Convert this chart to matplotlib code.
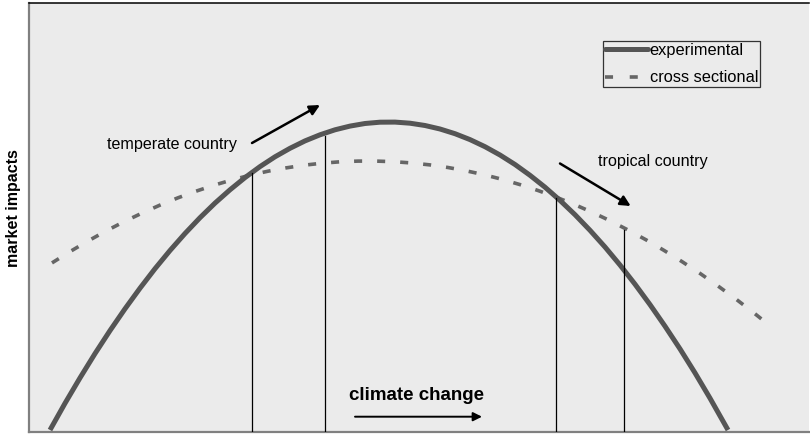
import matplotlib
matplotlib.use("Agg")
import matplotlib.pyplot as plt
from matplotlib.lines import Line2D

plt.rcParams['font.family'] = ['Liberation Sans', 'DejaVu Sans']
plt.rcParams['lines.scale_dashes'] = False

# Data (arbitrary units: climate change index vs market impact)
exp_x = [21, 36, 51, 66, 81, 96, 111, 126, 141, 156, 171, 186, 201, 216, 231,
         246, 261, 276, 291, 306, 321, 336, 351, 366, 381, 396, 411, 426, 441,
         456, 471, 486, 501, 516, 531, 546, 561, 576, 591, 606, 621, 636, 651,
         666, 681, 699]
exp_y = [1.5, 28.2, 53.6, 77.9, 100.9, 122.7, 143.3, 162.8, 181.0, 198.0,
         213.8, 228.4, 241.7, 253.9, 264.9, 274.7, 283.2, 290.6, 296.7, 301.7,
         305.4, 308.0, 309.3, 309.4, 308.3, 306.0, 302.5, 297.8, 291.9, 284.8,
         276.5, 267.0, 256.2, 244.3, 231.1, 216.8, 201.2, 184.5, 166.5, 147.3,
         126.9, 105.3, 82.6, 58.6, 33.3, 1.5]

cs_x = [23, 41, 59, 77, 95, 113, 131, 149, 167, 185, 203, 221, 239, 257, 275,
        293, 311, 329, 347, 365, 383, 401, 419, 437, 455, 473, 491, 509, 527,
        545, 563, 581, 599, 617, 635, 653, 671, 689, 707, 725, 742]
cs_y = [168.6, 179.9, 190.5, 200.5, 209.8, 218.4, 226.4, 233.7, 240.3, 246.3,
        251.6, 256.3, 260.3, 263.6, 266.3, 268.3, 269.7, 270.4, 270.4, 269.8,
        268.5, 266.6, 264.0, 260.7, 256.8, 252.2, 246.9, 241.0, 234.4, 227.2,
        219.3, 210.8, 201.5, 191.7, 181.1, 169.9, 158.1, 145.5, 132.4, 118.5,
        104.9]

vline_x = [223, 296, 527.5, 595]
vline_top = [258.5, 296, 233.5, 201.5]

series_labels = ["experimental", "cross sectional"]
ylabel = "market impacts"
xlabel_text = "climate change"
temperate_label = "temperate country"
tropical_label = "tropical country"

fig = plt.figure(figsize=(8.1, 4.34), dpi=100)
fig.patch.set_facecolor('white')
ax = fig.add_axes([29/810, 2.5/434, 780/810, 428.5/434])
ax.set_facecolor('#ebebeb')
ax.set_xlim(0, 780)
ax.set_ylim(0, 428.5)
ax.set_xticks([])
ax.set_yticks([])

ax.spines['top'].set_color('black')
ax.spines['top'].set_linewidth(1.1)
ax.spines['right'].set_visible(False)
ax.spines['left'].set_color('#808080')
ax.spines['left'].set_linewidth(1.6)
ax.spines['bottom'].set_color('#808080')
ax.spines['bottom'].set_linewidth(1.6)

solid_color = '#555555'
dash_color = '#666666'

ax.plot(exp_x, exp_y, color=solid_color, lw=3.6, solid_capstyle='butt',
        solid_joinstyle='round', zorder=3)
ax.plot(cs_x, cs_y, color=dash_color, lw=2.6, dashes=(5.8, 10.8),
        dash_capstyle='butt', zorder=2)

for x, top in zip(vline_x, vline_top):
    ax.plot([x, x], [0, top], color='black', lw=0.9, zorder=4)

arrow_kw = dict(arrowstyle='-|>', lw=1.8, color='black', mutation_scale=15,
                shrinkA=0, shrinkB=0)
ax.annotate('', xy=(291, 326.5), xytext=(223, 288.5), arrowprops=arrow_kw)
ax.annotate('', xy=(601.7, 225.5), xytext=(531, 268), arrowprops=arrow_kw)
ax.annotate('', xy=(453, 14.8), xytext=(326, 14.8),
            arrowprops=dict(arrowstyle='-|>', lw=1.4, color='black',
                            mutation_scale=13, shrinkA=0, shrinkB=0))

ax.text(78, 287.5, temperate_label, fontsize=11.6, ha='left', va='center')
ax.text(569, 270.5, tropical_label, fontsize=11.6, ha='left', va='center')
ax.text(388, 36.5, xlabel_text, fontsize=13.5, fontweight='bold',
        ha='center', va='center')

fig.text(13.5/810, 1 - 208/434, ylabel, fontsize=11.5, fontweight='bold',
         rotation=90, ha='center', va='center')

handles = [Line2D([], [], color=solid_color, lw=3.6, solid_capstyle='round'),
           Line2D([], [], color=dash_color, lw=2.6, dashes=(5.8, 12),
                  dash_capstyle='butt')]
leg = ax.legend(handles, series_labels, loc='upper left',
                bbox_to_anchor=((603 - 29) / 780, (431.5 - 41) / 428.5),
                fontsize=11.8, frameon=True, fancybox=False, handlelength=2.6,
                handletextpad=0.12, borderpad=0.12, labelspacing=0.75,
                borderaxespad=0.0)
frame = leg.get_frame()
frame.set_edgecolor('#333333')
frame.set_linewidth(0.9)
frame.set_facecolor('#ebebeb')
frame.set_alpha(1)

fig.savefig('out.png', dpi=100, facecolor='white')
